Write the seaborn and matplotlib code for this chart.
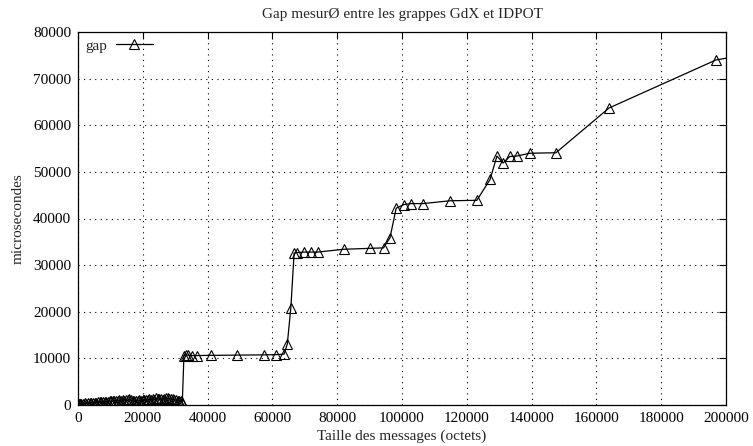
import matplotlib
matplotlib.use("Agg")
import matplotlib.pyplot as plt
import seaborn as sns
import pandas as pd

# Message sizes (bytes) and measured gap (microseconds)
taille = [
    1, 32, 64, 128, 256, 512, 768, 1024, 1536, 2048, 2560, 3072, 3584, 4096,
    4608, 5120, 5632, 6144, 6656, 7168, 7680, 8192, 8704, 9216, 9728, 10240,
    10752, 11264, 11776, 12288, 12800, 13312, 13824, 14336, 14848, 15360,
    15872, 16384, 16896, 17408, 17920, 18432, 18944, 19456, 19968, 20480,
    20992, 21504, 22016, 22528, 23040, 23552, 24064, 24576, 25088, 25600,
    26112, 26624, 27136, 27648, 28160, 28672, 29184, 29696, 30208, 30720,
    31232, 31744, 32200,
    32700, 33300, 34000, 35200, 36800, 40900, 49200, 57400, 61000, 63600,
    64600, 65700, 66700, 67500, 69800, 72000, 74000, 82000, 90100, 94300,
    96300, 98200, 100600, 102800, 106500, 114800, 123100, 127200, 129300,
    131200, 133300, 135500, 139500, 147500, 163900, 196900, 262144,
]
gap = [
    60, 90, 120, 150, 200, 250, 230, 300, 320, 380, 300, 420, 380, 480,
    450, 520, 480, 560, 600, 620, 580, 700, 650, 720, 800, 780,
    900, 820, 950, 880, 1000, 900, 1100, 950, 1050, 980,
    1200, 1000, 900, 850, 950, 900, 1000, 950, 1100, 1000,
    1150, 1050, 1300, 1100, 1200, 1150, 1400, 1250, 1300, 1200,
    1100, 1300, 1500, 1400, 1250, 1350, 1200, 1100, 1000, 900,
    850, 800, 700,
    10600, 10700, 10700, 10600, 10600, 10650, 10700, 10750, 10800, 10900,
    13100, 20900, 32600, 32700, 32800, 32800, 32800, 33400, 33600, 33700,
    35900, 42200, 43000, 43200, 43200, 43800, 43900, 48400, 53400,
    51900, 53300, 53400, 54000, 54100, 63700, 74000, 82000,
]
serie = ["gap"] * len(taille)

df = pd.DataFrame({"taille": taille, "gap": gap, "serie": serie})

sns.set_style("white")
plt.rcParams["font.family"] = ["Liberation Serif", "DejaVu Serif"]
plt.rcParams["font.size"] = 11

fig = plt.figure(figsize=(7.53, 4.46), dpi=100)
ax = fig.add_axes([78 / 753, 1 - 405 / 446, (726 - 78) / 753, (405 - 32) / 446])

sns.lineplot(
    data=df, x="taille", y="gap", hue="serie", palette=["black"],
    marker="^", markersize=7, markerfacecolor="none", markeredgecolor="black",
    markeredgewidth=0.8, linewidth=0.9, sort=False, estimator=None, ax=ax,
)

ax.set_xlim(0, 200000)
ax.set_ylim(0, 80000)
ax.set_xticks(range(0, 200001, 20000))
ax.set_yticks(range(0, 80001, 10000))
ax.grid(True, linestyle=(0, (1, 4)), color="black", linewidth=0.8)
ax.tick_params(direction="in", length=5, width=0.8, top=True, right=True,
               labelsize=11, pad=5, colors="black")
for s in ax.spines.values():
    s.set_color("black")
    s.set_linewidth(0.9)

ax.set_title("Gap mesurØ entre les grappes GdX et IDPOT", fontsize=11, pad=10)
ax.set_xlabel("Taille des messages (octets)", fontsize=11, labelpad=3)
ax.set_ylabel("microsecondes", fontsize=11, labelpad=6)

leg = ax.legend(loc="upper left", frameon=False, markerfirst=False,
                fontsize=11, handlelength=2.4, handletextpad=0.6,
                borderaxespad=0.15, borderpad=0.3)
for t in leg.get_texts():
    t.set_text("gap")

fig.savefig("out.png", dpi=100)
